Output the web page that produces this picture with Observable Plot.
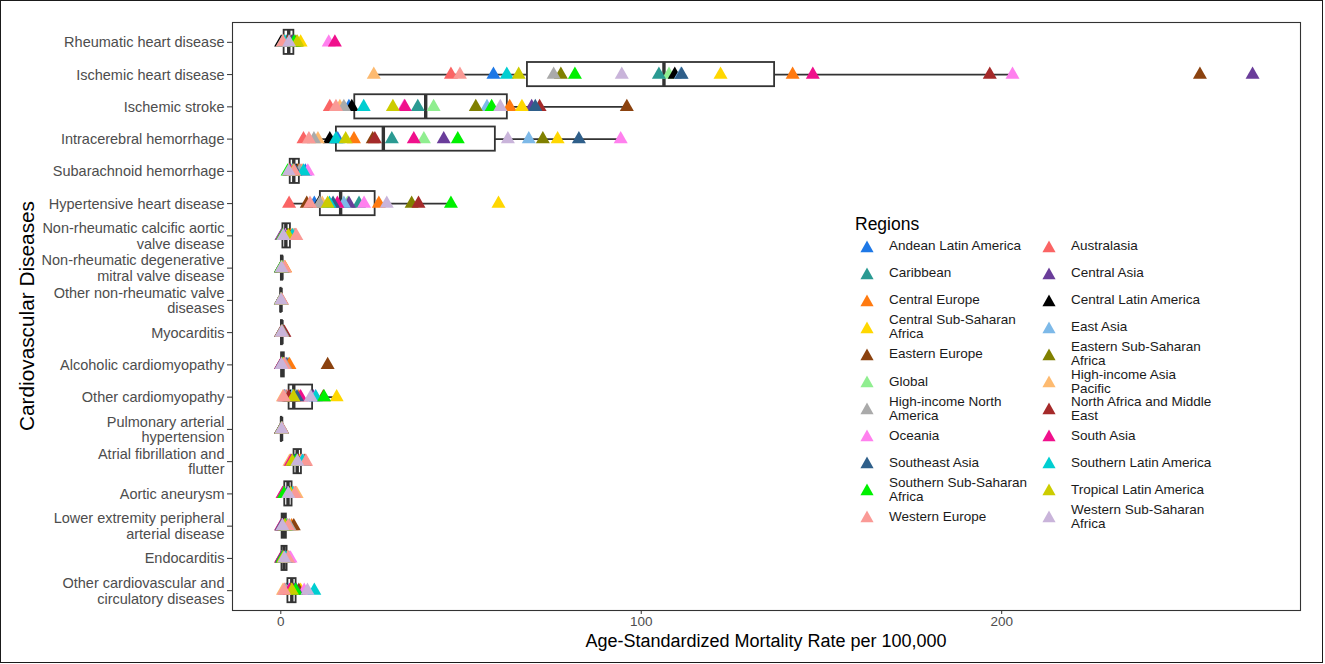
<!DOCTYPE html>
<html>
<head>
<meta charset="utf-8">
<script src="https://cdn.jsdelivr.net/npm/d3@7"></script>
<script src="https://cdn.jsdelivr.net/npm/@observablehq/plot@0.6"></script>
<style>
  body { margin: 0; background: #fff; font-family: "Liberation Sans", Arial, Helvetica, sans-serif; }
  #wrap { position: relative; width: 1325px; height: 664px; overflow: hidden; background: #fff; }
  #chart { position: absolute; left: 0; top: 0; }
  #border { position: absolute; left: 0; top: 0; width: 1323px; height: 663px; border: 1.5px solid #1a1a1a; box-sizing: border-box; pointer-events: none; }
  #xtitle { position: absolute; left: 766px; top: 631px; transform: translateX(-50%); font-size: 18px; line-height: 20px; color: #000; white-space: nowrap; }
  #ytitle { position: absolute; left: 27px; top: 316px; transform: translate(-50%, -50%) rotate(-90deg); font-size: 20.8px; line-height: 22px; color: #000; white-space: nowrap; }
  #legend { position: absolute; left: 855px; top: 214px; }
  #legend .ltitle { font-size: 17.5px; line-height: 20px; color: #000; margin-bottom: 0; height: 18.5px; }
  #legend .lgrid { display: grid; grid-template-columns: 182px 182px; grid-auto-rows: 27.1px; }
  #legend .item { display: flex; align-items: center; padding-left: 5px; }
  #legend .item svg { flex: 0 0 14px; margin-right: 15px; }
  #legend .item span { font-size: 13.5px; line-height: 14px; color: #1a1a1a; white-space: pre-line; }
</style>
</head>
<body>
<div id="wrap">
  <div id="chart"></div>
  <div id="xtitle">Age-Standardized Mortality Rate per 100,000</div>
  <div id="ytitle">Cardiovascular Diseases</div>
  <div id="legend"></div>
  <div id="border"></div>
</div>
<script>
// ---- categories ----
const diseases = [
  "Rheumatic heart disease",
  "Ischemic heart disease",
  "Ischemic stroke",
  "Intracerebral hemorrhage",
  "Subarachnoid hemorrhage",
  "Hypertensive heart disease",
  "Non-rheumatic calcific aortic valve disease",
  "Non-rheumatic degenerative mitral valve disease",
  "Other non-rheumatic valve diseases",
  "Myocarditis",
  "Alcoholic cardiomyopathy",
  "Other cardiomyopathy",
  "Pulmonary arterial hypertension",
  "Atrial fibrillation and flutter",
  "Aortic aneurysm",
  "Lower extremity peripheral arterial disease",
  "Endocarditis",
  "Other cardiovascular and circulatory diseases"
];
const tickLabels = [
  "Rheumatic heart disease",
  "Ischemic heart disease",
  "Ischemic stroke",
  "Intracerebral hemorrhage",
  "Subarachnoid hemorrhage",
  "Hypertensive heart disease",
  "Non-rheumatic calcific aortic\nvalve disease",
  "Non-rheumatic degenerative\nmitral valve disease",
  "Other non-rheumatic valve\ndiseases",
  "Myocarditis",
  "Alcoholic cardiomyopathy",
  "Other cardiomyopathy",
  "Pulmonary arterial\nhypertension",
  "Atrial fibrillation and\nflutter",
  "Aortic aneurysm",
  "Lower extremity peripheral\narterial disease",
  "Endocarditis",
  "Other cardiovascular and\ncirculatory diseases"
];
const xTicks = [0, 100, 200];

// ---- regions (legend order) ----
const regions = [
  "Andean Latin America", "Australasia", "Caribbean", "Central Asia",
  "Central Europe", "Central Latin America", "Central Sub-Saharan Africa", "East Asia",
  "Eastern Europe", "Eastern Sub-Saharan Africa", "Global", "High-income Asia Pacific",
  "High-income North America", "North Africa and Middle East", "Oceania", "South Asia",
  "Southeast Asia", "Southern Latin America", "Southern Sub-Saharan Africa", "Tropical Latin America",
  "Western Europe", "Western Sub-Saharan Africa"
];
const regionLabels = [
  "Andean Latin America", "Australasia", "Caribbean", "Central Asia",
  "Central Europe", "Central Latin America", "Central Sub-Saharan\nAfrica", "East Asia",
  "Eastern Europe", "Eastern Sub-Saharan\nAfrica", "Global", "High-income Asia\nPacific",
  "High-income North\nAmerica", "North Africa and Middle\nEast", "Oceania", "South Asia",
  "Southeast Asia", "Southern Latin America", "Southern Sub-Saharan\nAfrica", "Tropical Latin America",
  "Western Europe", "Western Sub-Saharan\nAfrica"
];
const regionColors = [
  "#1E78E6", "#FA6464", "#2A9A92", "#6A3D9A",
  "#FF7A10", "#000000", "#FFD700", "#7DB9E8",
  "#8B420F", "#808000", "#90EE90", "#FDBA70",
  "#AAAAAA", "#A52A2A", "#FF80EE", "#F0108C",
  "#2F5F8A", "#00CED1", "#00F000", "#CCCC00",
  "#FA9A96", "#C9B4DA"
];

// ---- values per disease, in region order above ----
const rheumatic      = [1.6, 0.8, 2.1, 3.4, 0.9, 0.1, 5.5, 2.6, 1.9, 4.2, 1.3, 0.7, 0.5, 2.9, 13.3, 15.0, 3.2, 1.0, 3.7, 4.6, 0.6, 2.3];
const ischemicHeart  = [59, 47.2, 104.9, 269.6, 142, 109.3, 122, 111, 255, 77.7, 107.7, 25.8, 75.7, 196.7, 203, 147.6, 111.2, 62.7, 81.6, 66, 49.7, 94.6];
const ischemicStroke = [18.9, 13.6, 38.0, 69.6, 63.5, 19.7, 66.9, 57.2, 96, 54.1, 42.4, 16.4, 17.5, 71.8, 34.2, 34.4, 70.6, 23.0, 58.5, 31.1, 15.3, 60.9];
const intracerebral  = [15.8, 6.3, 30.8, 45.2, 20.3, 13.6, 76.8, 68.8, 25.5, 72.7, 39.7, 10.3, 9.2, 26.1, 94.3, 36.9, 82.7, 15.3, 49.1, 18, 7.8, 63];
const subarachnoid   = [6.8, 5.6, 2.8, 3.4, 5.0, 4.3, 2.4, 3.2, 4.6, 2.3, 3.0, 6.0, 5.2, 2.55, 7.5, 2.5, 4.0, 6.3, 1.9, 3.5, 3.7, 2.2];
const hypertensive   = [9.3, 2.3, 21.7, 18.9, 27.2, 10.6, 60.4, 17.5, 7.2, 36.3, 18.5, 11.5, 10.8, 38.2, 23.1, 15.7, 14.5, 13.5, 47.2, 13, 8.1, 29.4];
const calcificAortic = [0.3, 4.0, 1.9, 0.2, 2.8, 1.7, 0.8, 0.4, 2.3, 0.55, 1.5, 3.5, 3.8, 1.1, 1.3, 0.35, 0.9, 3.2, 0.5, 2.1, 4.3, 0.7];
const degenMitral    = [0.12, 0.9, 0.4, 0.22, 1.2, 0.38, 0.1, 0.2, 0.45, 0.08, 0.32, 1.1, 0.8, 0.28, 0.25, 0.06, 0.15, 0.55, 0.05, 0.35, 1.0, 0.18];
const otherValve     = [0.04, 0.22, 0.09, 0.05, 0.18, 0.08, 0.02, 0.03, 0.1, 0.02, 0.06, 0.15, 0.25, 0.06, 0.05, 0.01, 0.03, 0.12, 0.07, 0.07, 0.3, 0.04];
const myocarditis    = [0.18, 0.45, 0.35, 0.8, 0.55, 0.32, 0.14, 0.12, 0.7, 0.1, 0.28, 0.38, 0.42, 1.0, 0.3, 0.08, 0.15, 0.5, 0.25, 0.22, 0.4, 0.2];
const alcoholicCM    = [0.3, 1.0, 2.0, 1.5, 2.4, 0.8, 0.22, 0.35, 13.0, 0.08, 0.3, 0.7, 1.2, 0.1, 0.25, 0.05, 0.15, 0.4, 0.45, 0.6, 0.9, 0.2];
const otherCM        = [1.0, 1.5, 2.9, 9.0, 5.0, 2.6, 15.5, 3.1, 11.8, 3.7, 3.3, 0.6, 1.2, 2.2, 9.6, 5.5, 4.5, 9.7, 12, 3.5, 0.8, 8.3];
const pulmonaryAH    = [0.18, 0.35, 0.3, 0.3, 0.3, 0.24, 0.15, 0.1, 0.1, 0.12, 0.2, 0.2, 0.4, 0.25, 0.22, 0.1, 0.14, 0.28, 0.18, 0.22, 0.35, 0.2];
const atrialFib      = [3.9, 6.8, 4.4, 5.0, 5.5, 4.0, 5.2, 2.6, 6.5, 3.0, 4.5, 2.4, 6.3, 4.8, 5.8, 2.8, 3.6, 6.0, 4.2, 3.2, 7.0, 4.6];
const aorticAneurysm = [0.6, 4.1, 2.5, 1.0, 3.6, 2.3, 0.7, 1.6, 2.9, 0.8, 1.9, 4.4, 3.4, 1.5, 1.4, 0.5, 1.7, 3.2, 0.9, 2.7, 3.9, 2.1];
const lowerPAD       = [0.15, 1.4, 0.9, 0.65, 3.0, 0.8, 0.2, 0.35, 3.6, 0.25, 0.7, 1.6, 2.4, 0.6, 0.5, 0.1, 0.3, 1.8, 1.3, 1.1, 2.0, 0.45];
const endocarditis   = [0.3, 1.9, 1.2, 0.4, 2.1, 1.0, 0.25, 0.2, 1.6, 0.15, 0.6, 1.8, 2.3, 0.85, 2.7, 0.1, 0.3, 1.4, 0.5, 0.7, 2.0, 0.95];
const otherCVD       = [1.9, 1.1, 3.8, 3.6, 2.8, 1.7, 5.5, 2.2, 5.0, 2.6, 3.0, 0.6, 1.4, 3.3, 6.5, 2.4, 4.3, 9.3, 4.1, 3.1, 0.9, 7.4];

const seriesByDisease = [
  rheumatic, ischemicHeart, ischemicStroke, intracerebral, subarachnoid, hypertensive,
  calcificAortic, degenMitral, otherValve, myocarditis, alcoholicCM, otherCM,
  pulmonaryAH, atrialFib, aorticAneurysm, lowerPAD, endocarditis, otherCVD
];

// ---- build tables ----
const labelOf = new Map(diseases.map((d, i) => [d, tickLabels[i]]));
const drawOrder = [10, ...regions.map((_, j) => j).filter(j => j !== 10)];
const points = [];
diseases.forEach((d, i) => {
  drawOrder.forEach(j => points.push({disease: d, region: regions[j], value: seriesByDisease[i][j]}));
});
const stats = diseases.map((d, i) => {
  const v = seriesByDisease[i].slice().sort(d3.ascending);
  const q1 = d3.quantile(v, 0.25), med = d3.quantile(v, 0.5), q3 = d3.quantile(v, 0.75);
  const iqr = q3 - q1;
  const lo = d3.min(v.filter(x => x >= q1 - 1.5 * iqr));
  const hi = d3.max(v.filter(x => x <= q3 + 1.5 * iqr));
  return {disease: d, q1, med, q3, lo, hi};
});

const chart = Plot.plot({
  width: 1325,
  height: 664,
  marginLeft: 232,
  marginRight: 25,
  marginTop: 22,
  marginBottom: 54,
  style: {fontFamily: '"Liberation Sans", Arial, Helvetica, sans-serif', background: "transparent", color: "#4d4d4d"},
  x: {domain: [-13.4, 282.9]},
  y: {type: "band", domain: diseases, paddingInner: 0.25, paddingOuter: 0.24, round: false},
  color: {domain: regions, range: regionColors},
  marks: [
    Plot.ruleY(stats, {y: "disease", x1: "lo", x2: "hi", stroke: "#333", strokeWidth: 1.8}),
    Plot.barX(stats, {y: "disease", x1: "q1", x2: "q3", fill: "white", stroke: "#333", strokeWidth: 1.8}),
    Plot.tickX(stats, {y: "disease", x: "med", stroke: "#333", strokeWidth: 3.4}),
    Plot.dot(points, {x: "value", y: "disease", fill: "region", symbol: "triangle", r: 5.2}),
    Plot.frame({stroke: "#333", strokeWidth: 1.1}),
    Plot.axisX({ticks: xTicks, tickSize: 4, tickPadding: 2, stroke: "#333", fill: "#4d4d4d", fontSize: 13.5, label: null}),
    Plot.axisY({tickSize: 5, tickPadding: 3, stroke: "#333", fill: "#4d4d4d", fontSize: 14.5, lineHeight: 1.08, label: null, tickFormat: d => labelOf.get(d)})
  ]
});
document.getElementById("chart").appendChild(chart);

// ---- legend ----
const legend = document.getElementById("legend");
const title = document.createElement("div");
title.className = "ltitle";
title.textContent = "Regions";
legend.appendChild(title);
const grid = document.createElement("div");
grid.className = "lgrid";
regions.forEach((r, j) => {
  const item = document.createElement("div");
  item.className = "item";
  item.innerHTML = `<svg width="14" height="13" viewBox="0 0 14 13"><polygon points="7,0.5 13.6,12.3 0.4,12.3" fill="${regionColors[j]}"/></svg>`;
  const span = document.createElement("span");
  span.textContent = regionLabels[j];
  item.appendChild(span);
  grid.appendChild(item);
});
legend.appendChild(grid);
</script>
</body>
</html>
